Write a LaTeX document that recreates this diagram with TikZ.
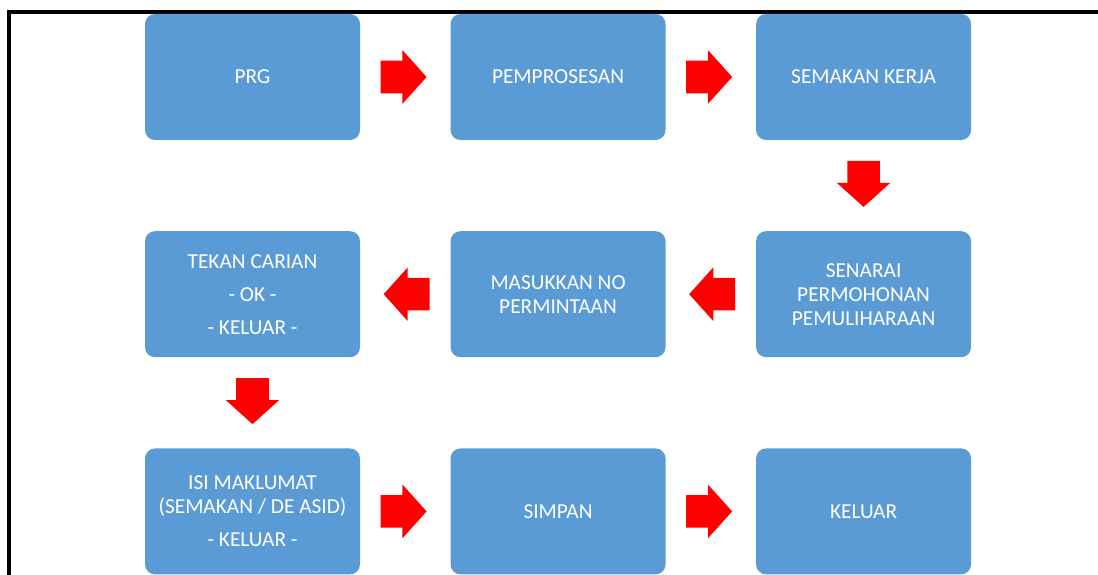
\documentclass[tikz,border=0pt]{standalone}
\usepackage{fontspec}
\setmainfont{Carlito}
\usepackage{tikz}
\usetikzlibrary{shapes.arrows,positioning,calc}
\definecolor{boxblue}{RGB}{91,155,213}
\definecolor{arrowred}{RGB}{255,0,0}
\tikzset{%
  % Specifications for style of nodes:
        stepbox/.style = {rectangle, rounded corners=7.5pt, fill=boxblue,
                          minimum width=161.25pt, minimum height=94.5pt,
                          text=white, align=center,
                          font=\fontsize{16pt}{18pt}\selectfont},
       blockarr/.style = {single arrow, fill=arrowred, inner xsep=0pt,
                          inner ysep=12pt, single arrow head extend=7.875pt,
                          single arrow tip angle=96, minimum height=34.5pt},
  blockarrright/.style = {blockarr, xshift=-6.75pt},
   blockarrdown/.style = {blockarr, yshift=6.75pt, rotate=-90},
   blockarrleft/.style = {blockarr, xshift=6.5pt, rotate=180},
}
\begin{document}
\begin{tikzpicture}[node distance=68pt and 67.5pt]
  \useasboundingbox (0pt,0pt) rectangle (823.5pt,-430.5pt);
  % frame
  \draw[line width=3pt] (6.75pt,-431pt) -- (6.75pt,-9pt) -- (824pt,-9pt);
  % Specification of nodes (position, etc.)
  \node (prg) [stepbox] at (189.375pt,-57.75pt) {PRG};
  \node (proses)  [stepbox, right=of prg]     {PEMPROSESAN};
  \node (semakan) [stepbox, right=of proses]  {SEMAKAN KERJA};
  \node (senarai) [stepbox, below=of semakan] {SENARAI\\PERMOHONAN\\PEMULIHARAAN};
  \node (masuk)   [stepbox, left=of senarai]  {MASUKKAN NO\\PERMINTAAN};
  \node (carian)  [stepbox, left=of masuk]    {TEKAN CARIAN\\[6.75pt]- OK -\\[6.75pt]- KELUAR -};
  \node (isi)     [stepbox, below=of carian]  {ISI MAKLUMAT\\(SEMAKAN / DE ASID)\\[6.75pt]- KELUAR -};
  \node (simpan)  [stepbox, right=of isi]     {SIMPAN};
  \node (keluar)  [stepbox, right=of simpan]  {KELUAR};
  % block arrows between the nodes above
  \node (a1) [blockarrright] at ($(prg)!0.5!(proses)$) {};
  \node (a2) [blockarrright] at ($(proses)!0.5!(semakan)$) {};
  \node (a3) [blockarrdown]  at ($(semakan)!0.5!(senarai)$) {};
  \node (a4) [blockarrleft]  at ($(senarai)!0.5!(masuk)$) {};
  \node (a5) [blockarrleft]  at ($(masuk)!0.5!(carian)$) {};
  \node (a6) [blockarrdown]  at ($(carian)!0.5!(isi)$) {};
  \node (a7) [blockarrright] at ($(isi)!0.5!(simpan)$) {};
  \node (a8) [blockarrright] at ($(simpan)!0.5!(keluar)$) {};
\end{tikzpicture}
\end{document}
